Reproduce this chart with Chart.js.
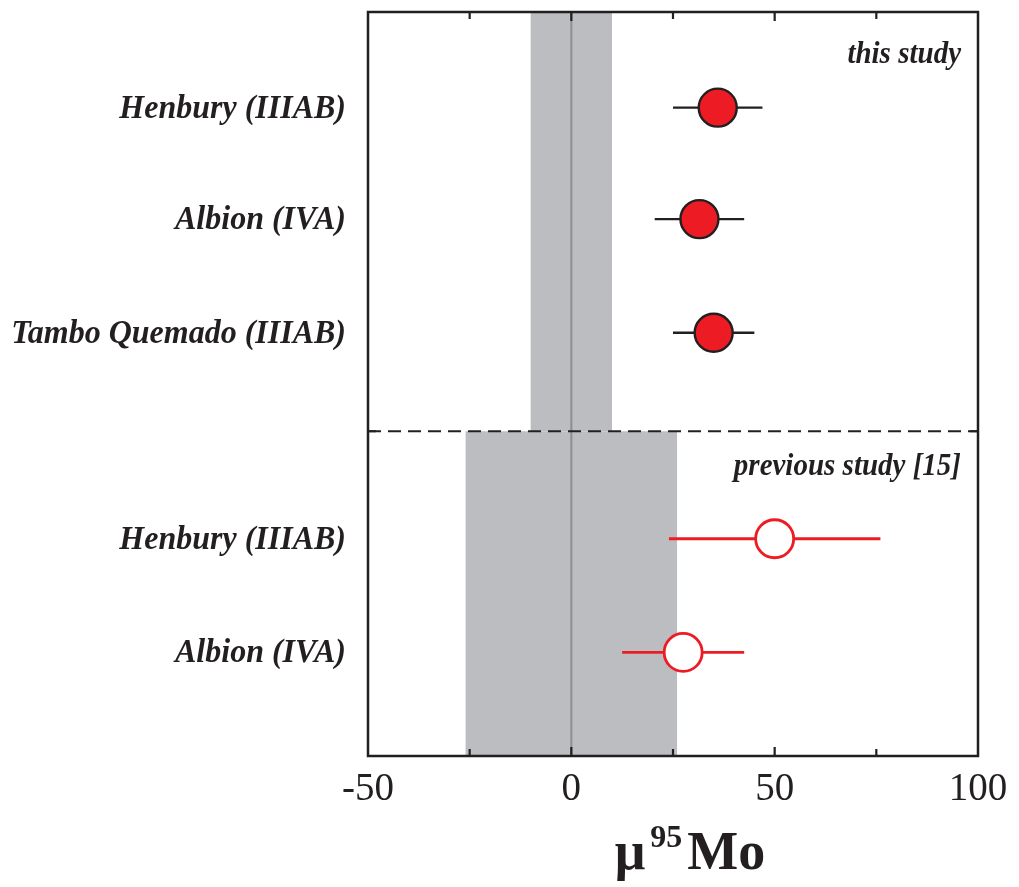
<!DOCTYPE html>
<html><head><meta charset="utf-8">
<script src="https://cdn.jsdelivr.net/npm/chart.js@4/dist/chart.umd.min.js"></script>
<style>html,body{margin:0;padding:0;background:#fff}#wrap{width:1019px;height:887px}</style>
</head><body><div id="wrap"><canvas id="c" width="1019" height="887"></canvas></div>
<script>
// ---- data ----
const rowLabels = ["Henbury (IIIAB)", "Albion (IVA)", "Tambo Quemado (IIIAB)", "Henbury (IIIAB)", "Albion (IVA)"];
const rowPos = [1, 1.99, 3, 4.83, 5.84];
const thisStudyValues = [36, 31.5, 35];
const thisStudyErrors = [11, 11, 10];
const thisStudyRows = [1, 1.99, 3];
const prevStudyValues = [50, 27.5];
const prevStudyErrors = [26, 15];
const prevStudyRows = [4.83, 5.84];
const dividerPos = 3.875;
const bandThisStudy = [-10, 10];
const bandPrevStudy = [-26, 26];
const sectionLabels = ["this study", "previous study [15]"];
const sectionLabelPos = [0.535, 4.19];
const xTickValues = [-50, 0, 50, 100];

const RED = '#ED1C24';
const GRAY = '#BCBDC1';
const INK = '#231F20';
const SERIF = '"Liberation Serif", "Times New Roman", serif';

const bgPlugin = {
  id: 'bg',
  beforeDatasetsDraw(chart) {
    const {ctx, chartArea: a, scales: {x, y}} = chart;
    ctx.save();
    ctx.beginPath(); ctx.rect(a.left, a.top, a.right - a.left, a.bottom - a.top); ctx.clip();
    ctx.fillStyle = GRAY;
    const yd = y.getPixelForValue(dividerPos);
    ctx.fillRect(x.getPixelForValue(bandThisStudy[0]), a.top, x.getPixelForValue(bandThisStudy[1]) - x.getPixelForValue(bandThisStudy[0]), yd - a.top);
    ctx.fillRect(x.getPixelForValue(bandPrevStudy[0]), yd, x.getPixelForValue(bandPrevStudy[1]) - x.getPixelForValue(bandPrevStudy[0]), a.bottom - yd);
    // zero line
    ctx.strokeStyle = '#8E8E91'; ctx.lineWidth = 2;
    const x0 = x.getPixelForValue(0);
    ctx.beginPath(); ctx.moveTo(x0, a.top); ctx.lineTo(x0, a.bottom); ctx.stroke();
    // divider
    ctx.strokeStyle = INK; ctx.lineWidth = 2.2; ctx.setLineDash([13, 7]);
    ctx.beginPath(); ctx.moveTo(a.left, yd); ctx.lineTo(a.right, yd); ctx.stroke();
    ctx.setLineDash([]);
    // error bars
    const drawErr = (vals, errs, rows, color, w) => {
      ctx.strokeStyle = color; ctx.lineWidth = w;
      vals.forEach((v, i) => {
        const py = y.getPixelForValue(rows[i]);
        ctx.beginPath();
        ctx.moveTo(x.getPixelForValue(v - errs[i]), py);
        ctx.lineTo(x.getPixelForValue(v + errs[i]), py);
        ctx.stroke();
      });
    };
    drawErr(thisStudyValues, thisStudyErrors, thisStudyRows, INK, 2.4);
    drawErr(prevStudyValues, prevStudyErrors, prevStudyRows, RED, 2.8);
    ctx.restore();
  },
  afterDraw(chart) {
    const {ctx, chartArea: a, scales: {x, y}} = chart;
    ctx.save();
    // frame
    ctx.strokeStyle = INK; ctx.lineWidth = 2.5;
    ctx.strokeRect(a.left, a.top, a.right - a.left, a.bottom - a.top);
    // inward ticks
    ctx.lineWidth = 2.2;
    for (let v = -25; v <= 75; v += 25) {
      const px = x.getPixelForValue(v);
      const len = (v % 50 === 0) ? 9 : 7;
      ctx.beginPath();
      ctx.moveTo(px, a.bottom); ctx.lineTo(px, a.bottom - len);
      ctx.moveTo(px, a.top); ctx.lineTo(px, a.top + len);
      ctx.stroke();
    }
    const yd = y.getPixelForValue(dividerPos);
    ctx.beginPath(); ctx.moveTo(a.left, yd); ctx.lineTo(a.left + 8, yd); ctx.moveTo(a.right, yd); ctx.lineTo(a.right - 8, yd); ctx.stroke();
    // row labels (slight vertical stretch like the original typesetting)
    ctx.fillStyle = INK;
    ctx.textAlign = 'right'; ctx.textBaseline = 'middle';
    const stretch = 1.08;
    const drawStretched = (t, px, py, font) => {
      ctx.save(); ctx.translate(px, py); ctx.scale(1, stretch); ctx.font = font; ctx.fillText(t, 0, 0); ctx.restore();
    };
    rowLabels.forEach((l, i) => drawStretched(l, a.left - 22, y.getPixelForValue(rowPos[i]) + 1, 'italic bold 32px ' + SERIF));
    sectionLabels.forEach((l, i) => drawStretched(l, a.right - 17, y.getPixelForValue(sectionLabelPos[i]), 'italic bold 29px ' + SERIF));
    // axis title mu 95 Mo
    const cx = 690;
    const by = 869;
    ctx.textBaseline = 'alphabetic'; ctx.textAlign = 'left';
    const fBig = 'bold 54px ' + SERIF;
    const fSmall = 'bold 32px ' + SERIF;
    ctx.font = fBig; const wMu = ctx.measureText('\u03BC').width; const wMo = ctx.measureText('Mo').width;
    ctx.font = fSmall; const w95 = ctx.measureText('95').width;
    const total = wMu + w95 + wMo + 10;
    let sx = cx - total / 2;
    ctx.font = fBig; ctx.fillText('\u03BC', sx, by); sx += wMu + 5;
    ctx.font = fSmall; ctx.fillText('95', sx, by - 22); sx += w95 + 5;
    ctx.font = fBig; ctx.fillText('Mo', sx, by);
    ctx.restore();
  }
};

new Chart(document.getElementById('c'), {
  type: 'scatter',
  data: {
    datasets: [
      {
        label: 'this study',
        data: thisStudyValues.map((v, i) => ({x: v, y: thisStudyRows[i]})),
        pointRadius: 19, pointHoverRadius: 19,
        backgroundColor: RED, borderColor: INK, borderWidth: 2.4
      },
      {
        label: 'previous study [15]',
        data: prevStudyValues.map((v, i) => ({x: v, y: prevStudyRows[i]})),
        pointRadius: 19, pointHoverRadius: 19,
        backgroundColor: '#FFFFFF', borderColor: RED, borderWidth: 2.8
      }
    ]
  },
  options: {
    responsive: false, animation: false,
    layout: {autoPadding: false, padding: {left: 0, right: 41, top: 12, bottom: 0}},
    plugins: {legend: {display: false}, tooltip: {enabled: false}},
    scales: {
      x: {
        type: 'linear', min: -50, max: 100,
        grid: {display: false, drawTicks: false}, border: {display: false},
        afterBuildTicks: s => { s.ticks = xTickValues.map(v => ({value: v})); },
        ticks: {padding: 10, color: INK, maxRotation: 0, font: {family: SERIF, size: 39}},
        afterFit: s => { s.height = 131; }
      },
      y: {
        type: 'linear', reverse: true, min: 0.15, max: 6.76,
        grid: {display: false, drawTicks: false}, border: {display: false},
        ticks: {display: false},
        afterFit: s => { s.width = 368; }
      }
    }
  },
  plugins: [bgPlugin]
});
</script></body></html>
